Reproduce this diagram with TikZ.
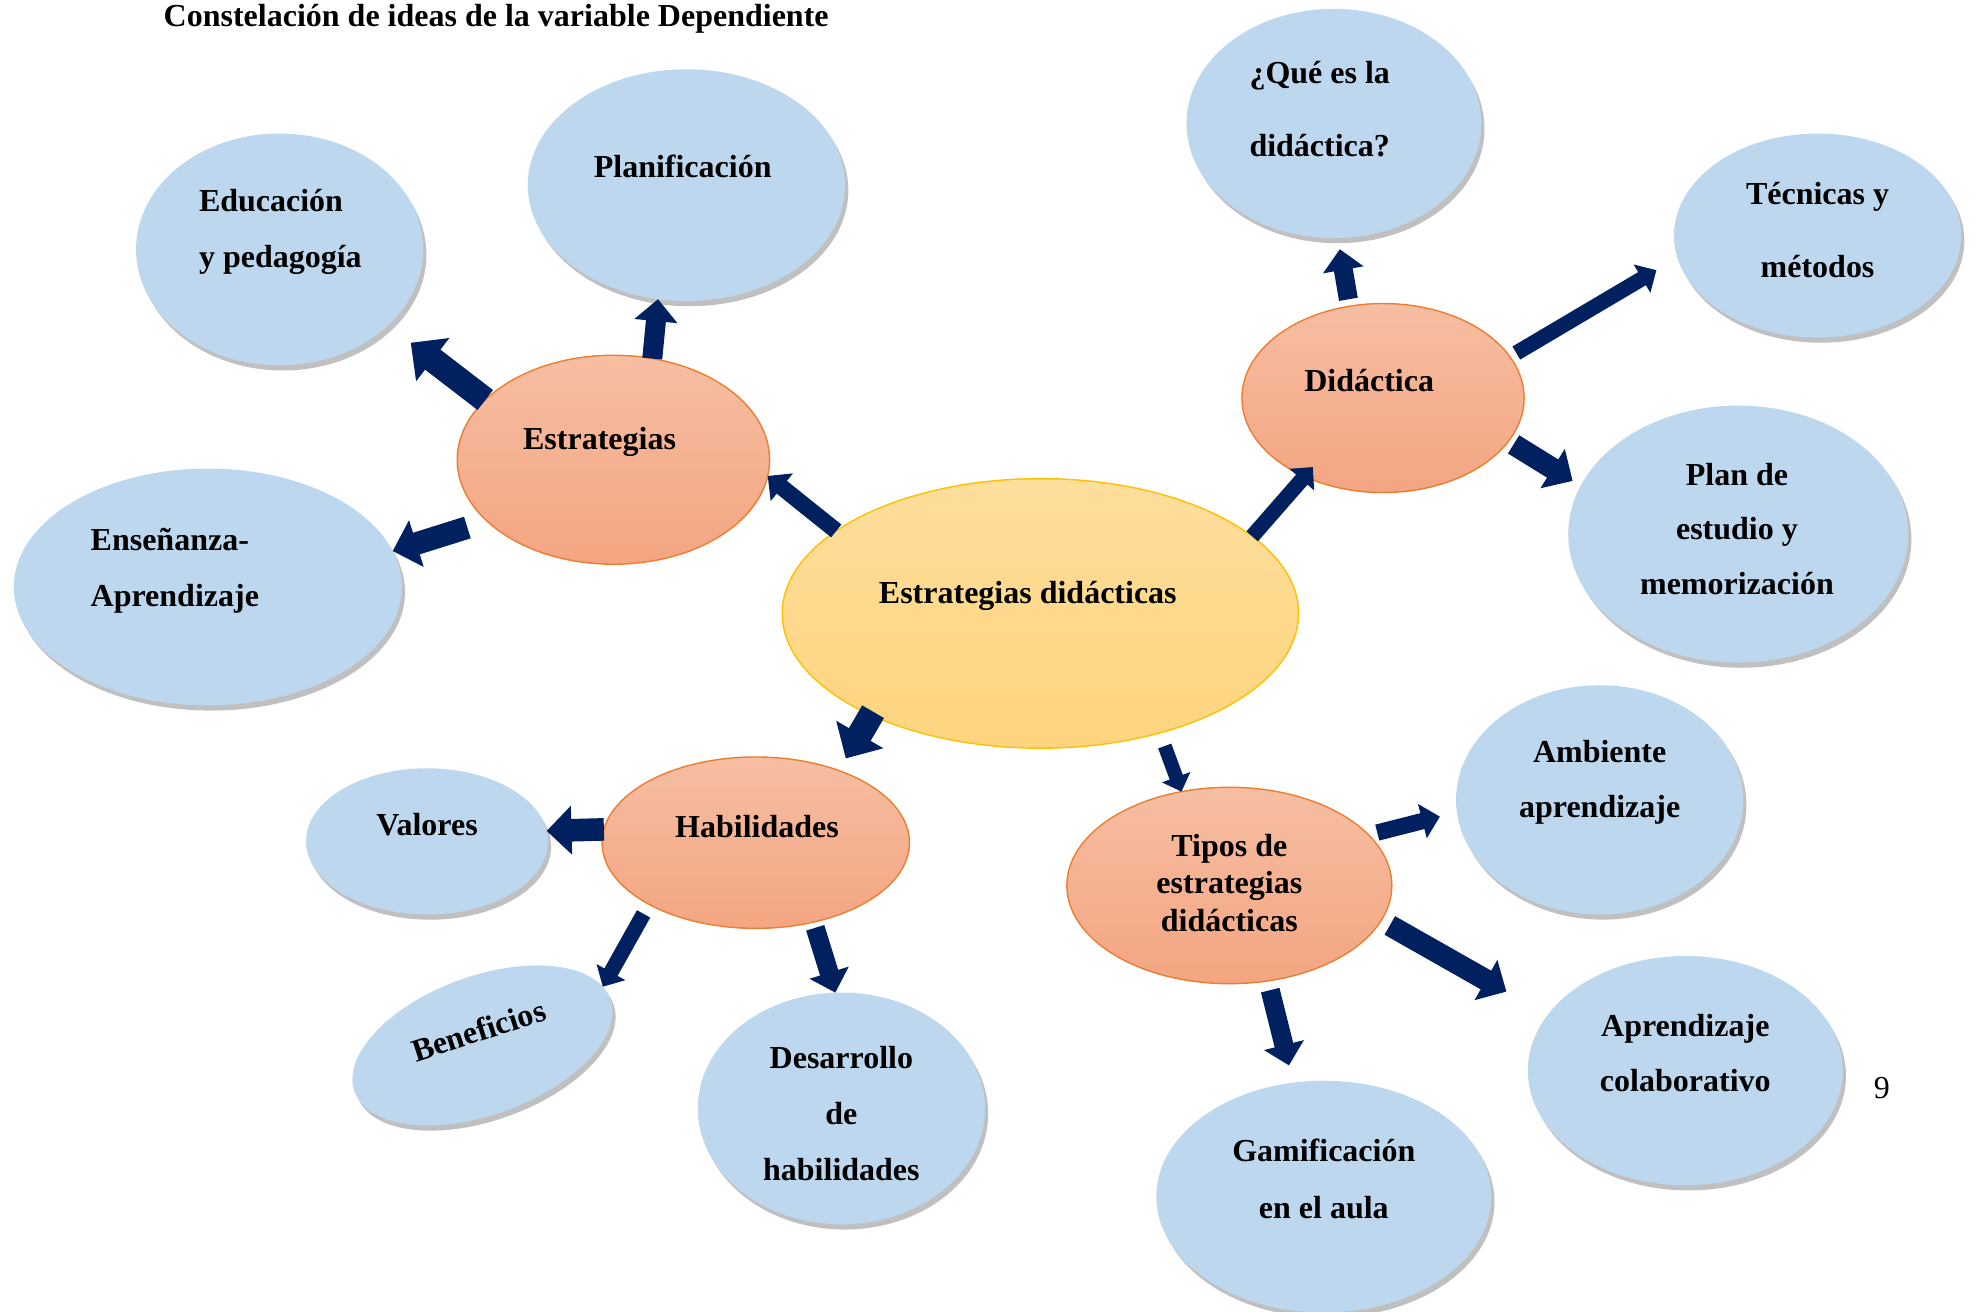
\documentclass[tikz,border=0pt]{standalone}
\usepackage{fontspec}
\setmainfont{Liberation Serif}
\usetikzlibrary{arrows.meta,shapes.geometric,shadows}
\definecolor{navy}{HTML}{002060}
\definecolor{lblue}{HTML}{BDD7EE}
\definecolor{orgT}{HTML}{F6BEA2}
\definecolor{orgB}{HTML}{F4A581}
\definecolor{orgD}{HTML}{ED7D31}
\definecolor{yelT}{HTML}{FEDE9C}
\definecolor{yelB}{HTML}{FED47E}
\definecolor{yelD}{HTML}{FFC000}
\begin{document}
\begin{tikzpicture}[x=0.6298pt,y=-0.6298pt,
 every node/.style={inner sep=0pt, outer sep=0pt},
 sz/.style 2 args={minimum width=#1, minimum height=#2},
 bub/.style={ellipse, fill=lblue, draw=none,
   drop shadow={shadow xshift=1.6pt, shadow yshift=-2.6pt, fill=black!55, opacity=0.45}},
 hub/.style={ellipse, draw=orgD, line width=0.7pt, top color=orgT, bottom color=orgB},
 core/.style={ellipse, draw=yelD, line width=0.7pt, top color=yelT, bottom color=yelB},
 txt/.style={font=\fontsize{16pt}{#1}\selectfont\bfseries, align=center},
 txt/.default=19pt,
 blk/.style={draw=navy, line width=#1, -{Triangle[length=0pt 1.1, width=0pt 2.1]}}
]
\useasboundingbox (0,0) rectangle (1568,1041);
\clip (0,0) rectangle (1568,1041);

% ellipses
\node[core, sz={258.2pt}{134.8pt}] (core) at (826,487) {};
\node[hub, sz={156.2pt}{104.5pt}] (estr) at (487,365) {};
\node[hub, sz={141.1pt}{94.5pt}] (dida) at (1098,316) {};
\node[hub, sz={153.7pt}{85.7pt}] (habi) at (600,669) {};
\node[hub, sz={162.5pt}{98.2pt}] (tipo) at (976,703) {};
\node[bub, sz={143.6pt}{115.9pt}] (edu) at (222,198) {};
\node[bub, sz={158.7pt}{115.9pt}] (plan) at (545,147) {};
\node[bub, sz={194.0pt}{118.4pt}] (ens) at (165,466) {};
\node[bub, sz={147.4pt}{114.6pt}] (que) at (1059,98) {};
\node[bub, sz={143.6pt}{102.0pt}] (tec) at (1443,187) {};
\node[bub, sz={170.0pt}{128.5pt}] (pde) at (1380,424) {};
\node[bub, sz={143.6pt}{114.6pt}] (amb) at (1270,635) {};
\node[bub, sz={157.5pt}{114.6pt}] (col) at (1338,850) {};
\node[bub, sz={167.5pt}{115.9pt}] (gam) at (1051,950) {};
\node[bub, sz={120.9pt}{73.1pt}] (val) at (339,668) {};
\node[bub, sz={136.0pt}{69.3pt}, rotate=20] (ben) at (383,830) {};
\node[bub, sz={143.6pt}{115.9pt}] (des) at (668,880) {};

% texts
\node[txt, anchor=west] (title) at (130,15) {Constelación de ideas de la variable Dependiente};
\node[txt] (tcore) at (816,473) {Estrategias didácticas};
\node[txt] (testr) at (476,351) {Estrategias};
\node[txt] (tdida) at (1087,302) {Didáctica};
\node[txt] (thabi) at (601,656) {Habilidades};
\node[txt=18.6pt] (ttipo) at (976,701) {Tipos de\\estrategias\\didácticas};
\node[txt=27.7pt, align=left, anchor=west] (tedu) at (158,184) {Educación\\y pedagogía};
\node[txt] (tplan) at (542,132) {Planificación};
\node[txt=27.7pt, align=left, anchor=west] (tens) at (72,453) {Enseñanza-\\Aprendizaje};
\node[txt=36.5pt, align=left, anchor=west] (tque) at (992,87) {¿Qué es la\\didáctica?};
\node[txt=36.5pt] (ttec) at (1443,183) {Técnicas y\\métodos};
\node[txt=27.4pt] (tpde) at (1379,420) {Plan de\\estudio y\\memorización};
\node[txt=27.7pt] (tamb) at (1270,621) {Ambiente\\aprendizaje};
\node[txt=27.7pt] (tcol) at (1338,836) {Aprendizaje\\colaborativo};
\node[txt=28.3pt] (tgam) at (1051,936) {Gamificación\\en el aula};
\node[txt=28pt] (tdes) at (668,884) {Desarrollo\\de\\habilidades};
\node[txt] (tval) at (339,655) {Valores};
\node[txt, rotate=18] (tben) at (380,818) {Beneficios};
\node[font=\fontsize{16pt}{19pt}\selectfont] (pnum) at (1494,864) {9};

% arrows
\draw[blk=8.2pt] (core.158) -- (estr.-6.5);
\draw[blk=12.6pt, shorten >=14.3pt] (estr.155.7) -- (edu.-35.4);
\draw[blk=10pt] (estr.69.4) -- (plan.-104.9);
\draw[blk=11.3pt, shorten <=10.4pt] (estr.206.6) -- (ens.11.2);
\draw[blk=7.6pt, shorten >=-6.3pt] (core.20.1) -- (dida.-135.5);
\draw[blk=9.5pt, shorten <=3.5pt, shorten >=5.7pt] (dida.110.4) -- (que.-88.3);
\draw[blk=7.6pt, shorten <=3.7pt, shorten >=12.2pt] (dida.18.3) -- (tec.189.6);
\draw[blk=10.7pt, shorten <=3pt, shorten >=4.7pt] (dida.-19.1) -- (pde.163.7);
\draw[blk=12.6pt, shorten <=-2pt, shorten >=7pt] (core.-149.1) -- (habi.41.7);
\draw[blk=7pt, shorten <=7pt] (core.-45.3) -- (tipo.117.5);
\draw[blk=11.3pt] (habi.175.7) -- (val.5);
\draw[blk=7.6pt, shorten <=5.5pt] (habi.-150.3) -- (ben.6.6);
\draw[blk=9.5pt, shorten <=3pt] (habi.-54.4) -- (des.93.1);
\draw[blk=8.2pt, shorten <=4.5pt, shorten >=8.8pt] (tipo.20.8) -- (amb.185.4);
\draw[blk=10.7pt, shorten <=5pt, shorten >=23.7pt] (tipo.-13.2) -- (col.158.5);
\draw[blk=9.5pt, shorten <=4.8pt, shorten >=8.9pt] (tipo.-68.9) -- (gam.105.6);
\end{tikzpicture}
\end{document}
